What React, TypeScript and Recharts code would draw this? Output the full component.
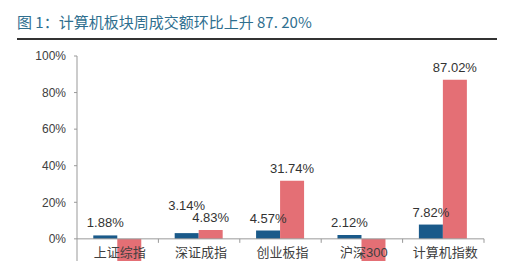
import { BarChart, Bar, XAxis, YAxis, ReferenceLine, LabelList } from "recharts";

const categories = ["上证综指", "深证成指", "创业板指", "沪深300", "计算机指数"];
const prevWeek = [1.88, 3.14, 4.57, 2.12, 7.82];
const thisWeek = [-16.36, 4.83, 31.74, -14.85, 87.02];
const yTicks = [-40, -20, 0, 20, 40, 60, 80, 100];

const data = categories.map((name, i) => ({
  name,
  prev: prevWeek[i],
  curr: thisWeek[i],
}));

const FONT = '"Liberation Sans", Arial, "Noto Sans CJK SC", sans-serif';
const W = 522;
const PLOT_TOP = 56;
const PLOT_H = 256;
const AXIS_X = 77;
const RIGHT = 38;
const Y_MIN = yTicks[0];
const Y_MAX = yTicks[yTicks.length - 1];
const pxPerUnit = PLOT_H / (Y_MAX - Y_MIN);
const zeroY = PLOT_TOP + Y_MAX * pxPerUnit;
const band = (W - AXIS_X - RIGHT) / categories.length;

function CategoryTick(props: any) {
  const { x, payload } = props;
  return (
    <g>
      <line x1={x + band / 2} y1={zeroY} x2={x + band / 2} y2={zeroY + 4} stroke="#999" />
      <text x={x + 2} y={zeroY + 18} textAnchor="middle" fontSize={13} fill="#404040" fontFamily={FONT}>
        {payload.value}
      </text>
    </g>
  );
}

// label above positive bars, below negative ones; the left (blue) label is
// lifted when it would run into the neighbouring red label
function makeLabel(isPrev: boolean) {
  return function ValueLabel(props: any) {
    const { x, y, width, height, value, index } = props;
    const top = Math.min(y, y + height);
    const bottom = Math.max(y, y + height);
    let ty = value >= 0 ? top - 8 : bottom + 16;
    if (isPrev && value >= 0) {
      const other = thisWeek[index];
      if (other >= 0) {
        const otherY = zeroY - other * pxPerUnit - 8;
        if (Math.abs(otherY - ty) < 16) ty = otherY - 12;
      }
    }
    return (
      <text x={x + width / 2} y={ty} textAnchor="middle" fontSize={13} fill="#333" fontFamily={FONT}>
        {`${value.toFixed(2)}%`}
      </text>
    );
  };
}

const PrevLabel = makeLabel(true);
const CurrLabel = makeLabel(false);

export default function App() {
  return (
    <div
      style={{
        position: "fixed",
        left: 0,
        top: 0,
        width: W,
        height: 261,
        overflow: "hidden",
        background: "#fff",
        fontFamily: FONT,
      }}
    >
      <div
        style={{
          position: "absolute",
          left: 17,
          top: 12,
          fontSize: 15,
          lineHeight: "20px",
          color: "#2f6f8f",
          whiteSpace: "nowrap",
          fontFamily: '"Noto Sans CJK SC", sans-serif',
        }}
      >
        图 1：计算机板块周成交额环比上升 87. 20%
      </div>
      <div
        style={{
          position: "absolute",
          left: 17,
          top: 38,
          width: 480,
          height: 2,
          background: "#333",
        }}
      />
      <div style={{ position: "absolute", left: 0, top: 0 }}>
        <BarChart
          width={W}
          height={PLOT_TOP + PLOT_H + 30}
          data={data}
          margin={{ top: PLOT_TOP, right: RIGHT, bottom: 0, left: 0 }}
          barCategoryGap="20%"
          barGap={0}
        >
          <XAxis
            dataKey="name"
            axisLine={false}
            tickLine={false}
            height={30}
            interval={0}
            tick={<CategoryTick />}
          />
          <YAxis
            width={AXIS_X}
            domain={[Y_MIN, Y_MAX]}
            ticks={yTicks}
            interval={0}
            tickFormatter={(v: number) => `${v}%`}
            stroke="#999"
            tickSize={3}
            tickMargin={8}
            tick={{ fontSize: 12, fill: "#404040", fontFamily: FONT }}
          />
          <ReferenceLine y={0} stroke="#999" />
          <Bar dataKey="prev" fill="#1a5a8a" isAnimationActive={false}>
            <LabelList dataKey="prev" content={<PrevLabel />} />
          </Bar>
          <Bar dataKey="curr" fill="#e46f75" isAnimationActive={false}>
            <LabelList dataKey="curr" content={<CurrLabel />} />
          </Bar>
        </BarChart>
      </div>
    </div>
  );
}
